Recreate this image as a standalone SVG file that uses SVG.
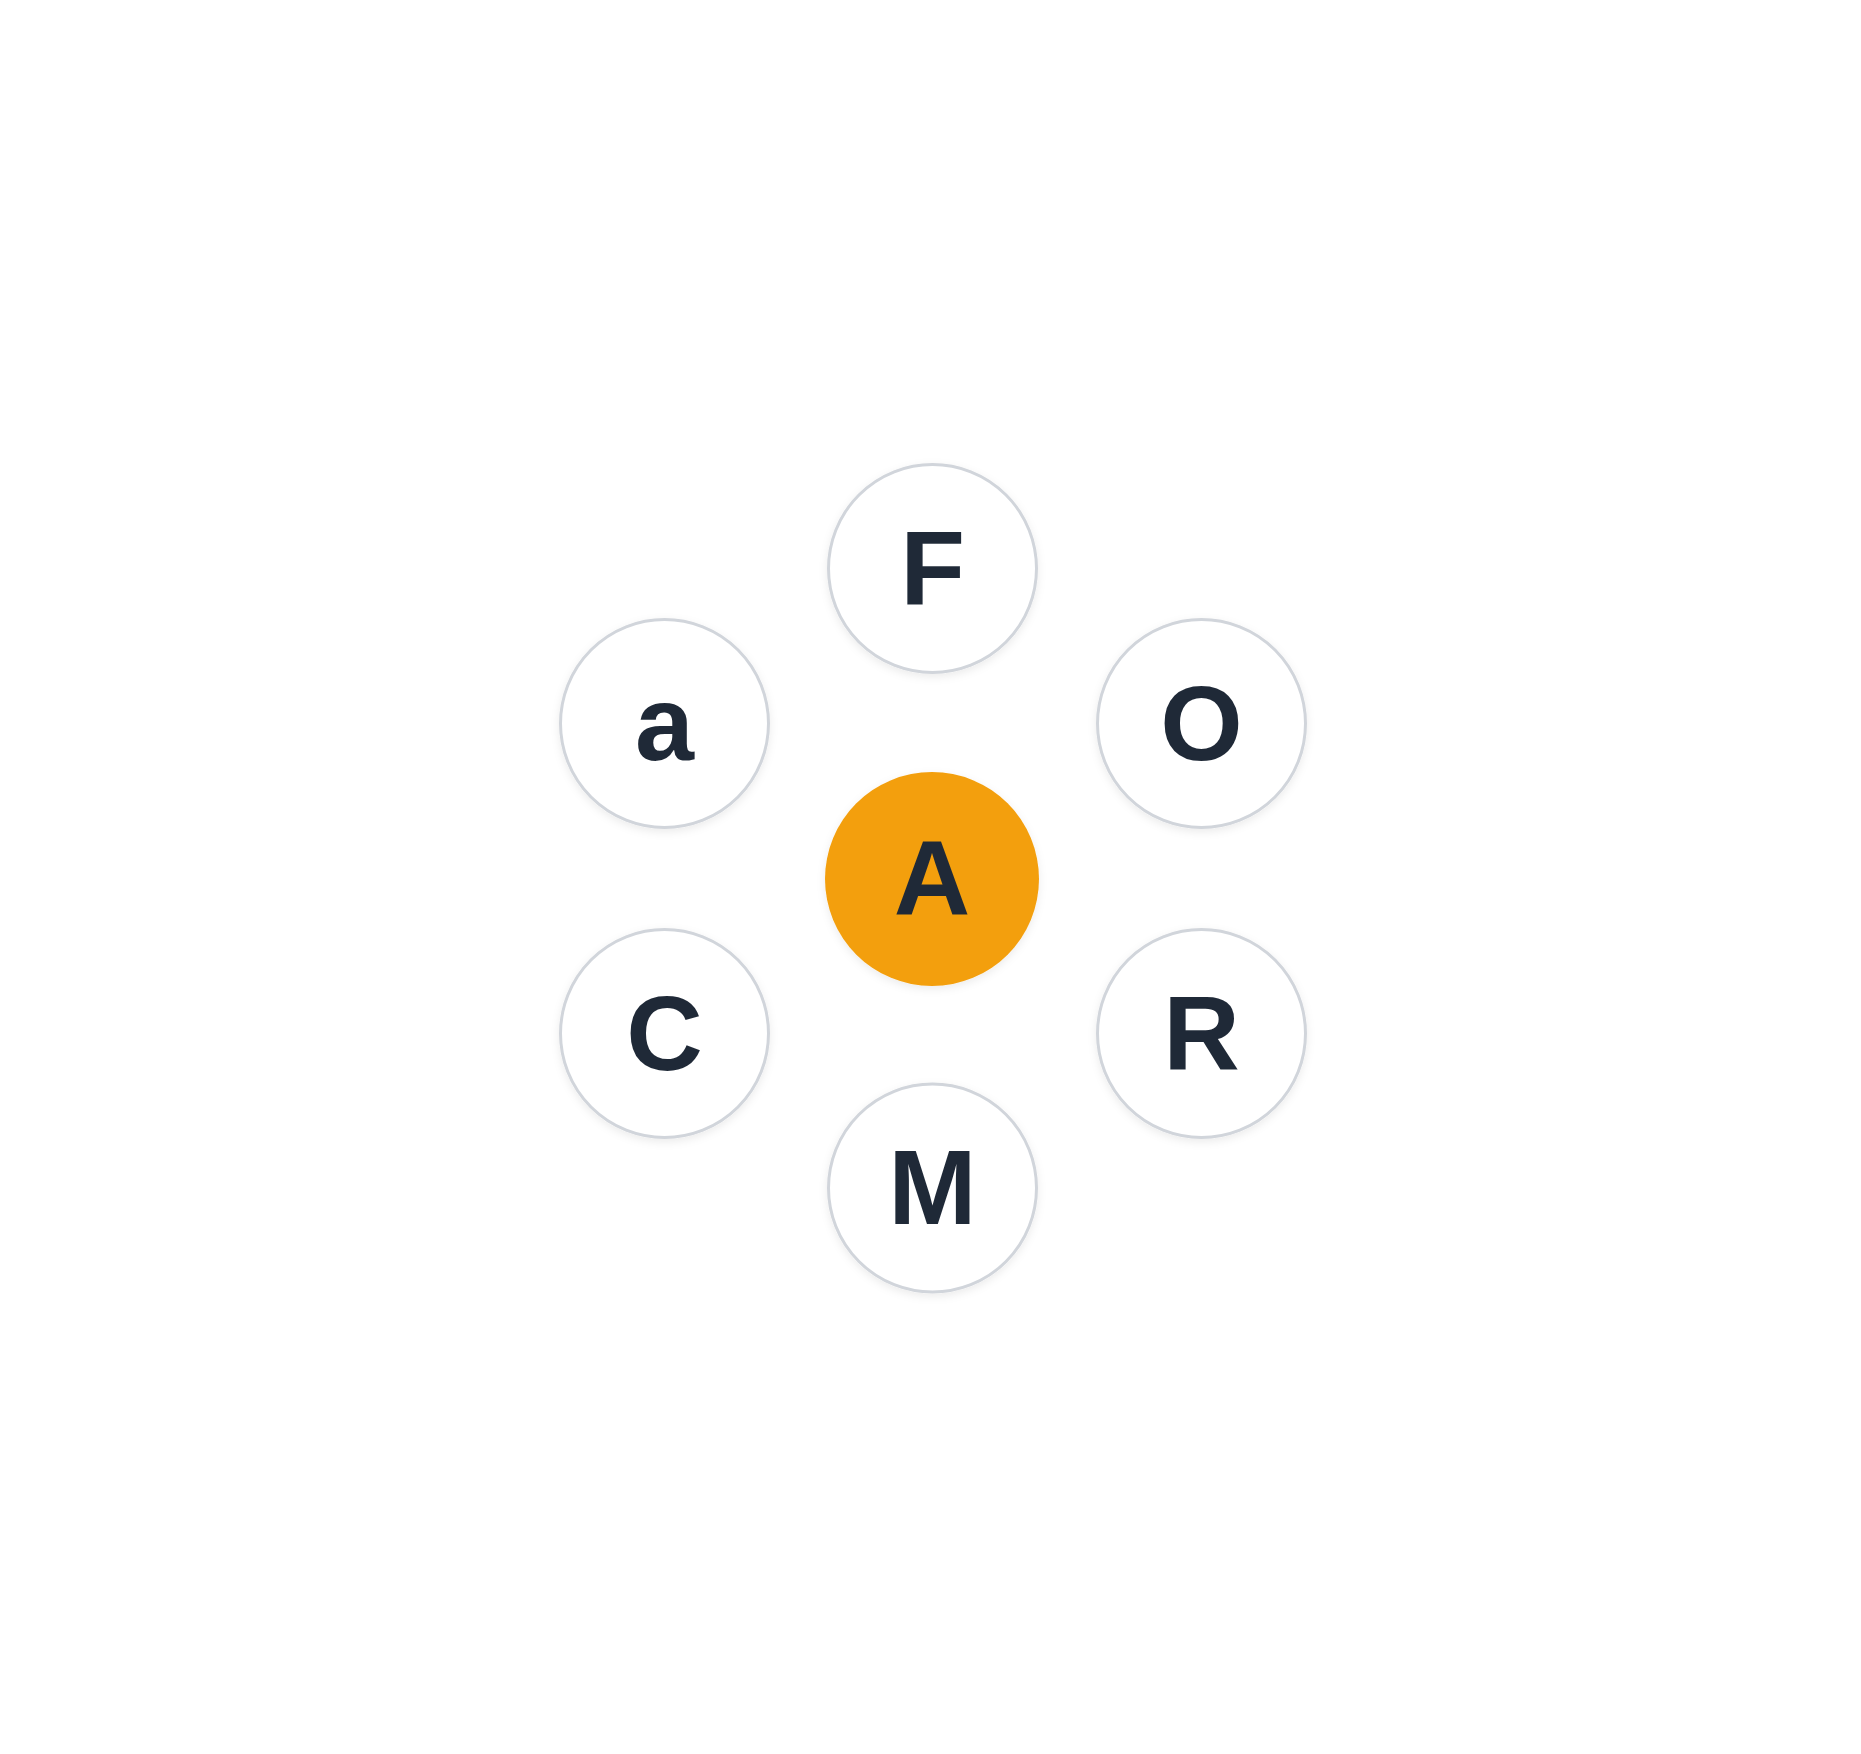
<svg xmlns="http://www.w3.org/2000/svg" width="1861" height="1754" viewBox="0 0 1861 1754">
  <defs>
    <filter id="sh" x="-20%" y="-20%" width="140%" height="140%">
      <feDropShadow dx="0" dy="3" stdDeviation="4" flood-color="#000000" flood-opacity="0.08"/>
    </filter>
  </defs>
  <style>
    .outer { fill: #ffffff; stroke: #d1d5db; stroke-width: 3; filter: url(#sh); }
    .center { fill: #f39f0e; filter: url(#sh); }
    .lbl { font-family: "Liberation Sans", Arial, sans-serif; font-weight: bold; font-size: 106px; fill: #1f2937; text-anchor: middle; }
  </style>
  <rect width="1861" height="1754" fill="#ffffff"/>
  <g id="connectors"></g>
  <g id="node-F">
    <circle class="outer" cx="932.5" cy="568.5" r="104"/>
    <text class="lbl" x="932.5" y="604.5">F</text>
  </g>
  <g id="node-O">
    <circle class="outer" cx="1201.5" cy="723.5" r="104"/>
    <text class="lbl" x="1201.5" y="759.5">O</text>
  </g>
  <g id="node-R">
    <circle class="outer" cx="1201.5" cy="1033.5" r="104"/>
    <text class="lbl" x="1201.5" y="1069.5">R</text>
  </g>
  <g id="node-M">
    <circle class="outer" cx="932.5" cy="1188" r="104"/>
    <text class="lbl" x="932.5" y="1224">M</text>
  </g>
  <g id="node-C">
    <circle class="outer" cx="664.5" cy="1033.5" r="104"/>
    <text class="lbl" x="664.5" y="1069.5">C</text>
  </g>
  <g id="node-a">
    <circle class="outer" cx="664.5" cy="723.5" r="104"/>
    <text class="lbl" x="664.5" y="759.5">a</text>
  </g>
  <g id="node-A">
    <circle class="center" cx="932" cy="879" r="107"/>
    <text class="lbl" x="932" y="915">A</text>
  </g>
</svg>
